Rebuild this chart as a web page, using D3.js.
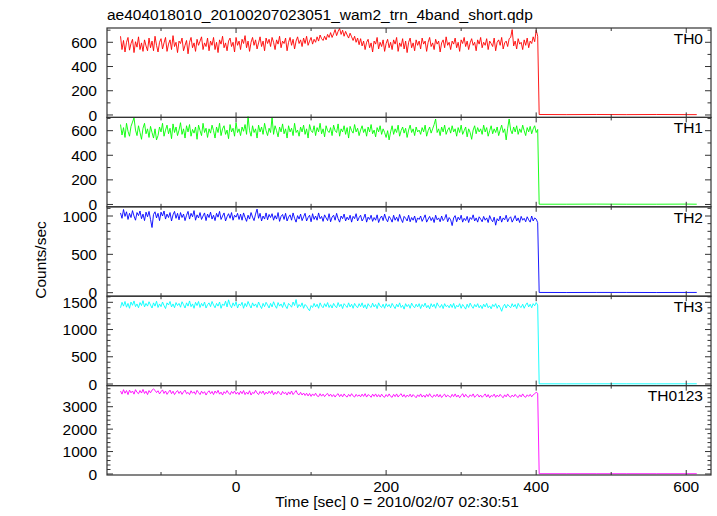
<!DOCTYPE html>
<html><head><meta charset="utf-8">
<script src="https://cdn.jsdelivr.net/npm/d3@7"></script>
<style>body{margin:0;background:#fff}svg{display:block}text{font-family:"Liberation Sans",Arial,sans-serif;fill:#000}</style>
</head><body><svg id="c" width="717" height="516"></svg>
<script>
// ---- data ----
const title = "ae404018010_20100207023051_wam2_trn_4band_short.qdp";
const xLabel = "Time [sec] 0 = 2010/02/07 02:30:51";
const yLabel = "Counts/sec";
const panelNames = ["TH0", "TH1", "TH2", "TH3", "TH0123"];
const xTickLabels = [0, 200, 400, 600];
// bins before the drop: start -154 s, 2 s apart
const binStart = -154, binStep = 2;
const th0High = [
 650,540,615,520,600,640,535,590,625,515,605,560,645,540,595,525,620,570,530,635,
 555,610,530,650,575,520,600,630,545,595,640,525,585,620,540,655,565,600,515,610,
 590,635,530,575,615,505,600,640,555,595,525,625,575,610,645,540,595,565,635,530,
 610,575,640,540,600,515,620,585,650,555,595,530,610,635,565,600,520,640,575,610,
 540,625,590,655,555,610,525,600,640,575,620,545,595,645,565,610,530,635,590,625,
 565,640,600,540,620,585,650,555,610,590,635,530,600,640,575,625,545,610,645,590,
 620,565,635,590,650,575,610,640,585,625,600,645,610,660,630,615,650,620,665,640,
 680,640,670,705,655,690,715,665,700,650,690,660,635,675,645,615,650,600,635,580,
 630,570,610,540,600,625,555,595,520,610,585,640,545,600,565,620,525,590,625,555,
 600,540,620,585,640,525,595,565,630,545,610,515,600,635,555,595,530,620,575,610,
 545,635,585,610,525,600,640,565,595,540,625,585,610,520,595,620,555,645,575,600,
 540,610,585,635,555,600,525,620,590,640,565,610,540,595,630,575,600,530,620,585,
 640,555,600,575,630,540,610,590,565,635,530,600,620,575,640,545,595,610,565,630,
 640,705,570,610,545,630,585,600,540,620,575,635,555,610,590,645,605,700,650];
const th1High = [
 650,565,625,545,660,595,555,635,670,705,605,560,640,585,530,620,660,575,615,545,
 635,585,540,615,525,560,630,590,660,555,605,645,575,620,535,655,585,630,560,605,
 665,570,615,540,640,590,650,555,610,580,630,530,645,600,560,660,585,620,545,615,
 580,645,600,540,630,585,660,560,615,640,570,605,535,650,590,620,555,665,585,615,
 560,630,595,650,570,715,600,555,640,585,615,540,645,590,630,570,660,600,560,620,
 585,710,570,640,600,550,630,590,655,575,615,540,640,590,620,560,660,585,605,555,
 630,590,645,570,615,540,650,600,585,640,560,625,590,660,575,615,550,640,600,585,
 625,560,645,600,585,655,555,615,590,640,570,625,540,635,600,580,650,590,620,560,
 605,640,585,615,555,630,590,650,575,605,550,625,590,640,570,615,585,545,600,525,
 590,640,570,615,585,645,555,600,630,580,620,545,605,645,585,615,560,630,590,605,
 570,625,590,645,555,600,630,580,615,650,695,585,615,560,630,590,645,570,605,625,
 580,640,590,615,555,625,585,645,570,600,630,550,615,585,530,605,640,575,625,590,
 615,570,645,590,625,555,600,640,575,615,585,630,560,605,645,585,615,525,620,695,
 605,575,630,590,640,570,615,585,645,600,560,625,590,635,575,615,640,585,610];
const th2High = [
 1040,970,1085,995,1055,955,1035,980,1070,1000,945,1045,1005,1065,965,1025,940,1050,990,1060,
 955,850,1020,1055,975,1035,940,1050,1000,1065,960,1025,980,1045,935,1015,1060,970,1035,950,
 1045,980,1025,940,1010,1060,960,1035,990,1070,945,1015,975,1045,955,1000,1040,940,1025,980,
 1050,960,1010,940,1035,985,1060,955,1000,1040,935,990,1030,970,1045,945,1010,985,1035,955,
 1025,945,1040,980,930,1010,960,1045,985,940,1025,1090,970,1035,935,1000,960,1040,950,1020,
 980,1030,945,1005,960,1045,930,995,1020,955,1035,935,985,1015,945,1040,970,920,1005,960,
 1025,940,990,1035,935,980,1010,925,1030,955,1000,945,1040,965,995,930,1015,975,940,1030,
 925,985,1010,945,1035,965,920,1000,965,1025,935,985,950,1010,920,995,965,1030,935,980,
 1010,935,970,1025,920,985,955,1010,930,980,945,1015,915,970,1000,940,1025,960,925,995,
 965,920,1010,945,985,930,1020,960,915,995,970,935,1010,925,980,945,1000,915,975,955,
 1000,930,970,1015,920,960,995,940,980,915,1010,950,975,925,1000,940,965,1020,925,980,
 950,875,975,1005,925,985,950,1010,920,970,940,995,915,980,955,1015,935,975,920,990,
 960,925,995,945,975,915,1005,955,925,985,880,965,935,1000,920,975,950,1010,925,970,
 990,920,960,1005,935,975,915,995,945,970,925,990,950,920,1000,935,975,960,915];
const th3High = [
 1400,1500,1430,1515,1410,1480,1390,1505,1445,1525,1420,1470,1400,1495,1440,1530,1415,1480,1430,1510,
 1450,1395,1490,1430,1520,1405,1470,1420,1505,1440,1385,1490,1450,1515,1415,1470,1400,1495,1440,1480,
 1410,1510,1455,1395,1490,1430,1525,1420,1470,1390,1500,1440,1515,1405,1480,1430,1505,1395,1455,1490,
 1420,1515,1450,1400,1480,1430,1505,1390,1470,1440,1520,1415,1545,1450,1400,1490,1430,1510,1395,1470,
 1440,1500,1390,1480,1420,1515,1450,1395,1490,1430,1470,1405,1505,1440,1385,1480,1420,1500,1450,1395,
 1480,1415,1510,1440,1390,1495,1430,1470,1405,1500,1430,1385,1480,1450,1410,1505,1440,1550,1400,1460,
 1420,1490,1390,1460,1430,1380,1345,1440,1405,1480,1415,1465,1390,1490,1430,1400,1475,1420,1495,1405,
 1455,1395,1480,1430,1400,1495,1420,1465,1385,1475,1440,1405,1490,1415,1465,1390,1480,1430,1400,1475,
 1420,1490,1400,1455,1380,1475,1430,1405,1485,1415,1460,1385,1490,1430,1405,1465,1390,1475,1420,1460,
 1400,1480,1430,1385,1465,1415,1490,1405,1445,1375,1475,1420,1460,1390,1485,1430,1400,1465,1415,1475,
 1385,1460,1420,1485,1400,1445,1380,1475,1415,1465,1390,1490,1430,1405,1460,1385,1475,1420,1445,1400,
 1465,1405,1480,1385,1445,1415,1475,1390,1460,1420,1375,1465,1405,1485,1430,1390,1460,1415,1475,1400,
 1445,1385,1465,1415,1480,1400,1435,1380,1460,1420,1475,1390,1450,1405,1335,1420,1465,1395,1460,1430,
 1400,1475,1415,1460,1385,1480,1425,1405,1465,1390,1450,1490,1415,1465,1400,1475,1435,1495,1450];
const th0123High = [
 3700,3560,3760,3600,3720,3540,3740,3620,3700,3560,3760,3640,3580,3720,3610,3770,3590,3690,3540,3720,
 3620,3740,3790,3730,3630,3710,3570,3670,3750,3590,3700,3550,3650,3740,3580,3690,3540,3650,3720,3590,
 3690,3550,3660,3740,3580,3640,3540,3710,3600,3670,3550,3730,3630,3540,3690,3590,3670,3520,3640,3710,
 3580,3680,3540,3700,3600,3730,3560,3650,3520,3670,3590,3720,3610,3540,3680,3590,3700,3560,3650,3540,
 3690,3580,3720,3540,3650,3560,3710,3520,3640,3590,3730,3610,3540,3680,3590,3700,3540,3650,3570,3690,
 3590,3710,3530,3650,3560,3690,3600,3530,3680,3580,3640,3520,3660,3560,3700,3540,3630,3720,3570,3530,
 3640,3520,3610,3500,3600,3480,3590,3460,3570,3490,3600,3480,3450,3580,3470,3560,3450,3540,3590,3470,
 3560,3450,3540,3430,3530,3580,3450,3550,3440,3570,3480,3430,3550,3460,3580,3480,3430,3550,3460,3530,
 3440,3560,3460,3580,3430,3540,3500,3420,3560,3460,3570,3440,3540,3430,3560,3460,3420,3540,3450,3570,
 3460,3420,3550,3450,3570,3430,3520,3580,3440,3540,3420,3520,3450,3560,3430,3540,3470,3400,3530,3450,
 3570,3430,3520,3420,3550,3450,3580,3460,3420,3530,3450,3560,3430,3540,3410,3500,3560,3430,3520,3460,
 3420,3550,3450,3570,3430,3520,3400,3490,3580,3430,3550,3450,3420,3530,3460,3570,3420,3500,3550,3430,
 3520,3420,3490,3570,3430,3540,3400,3500,3460,3560,3420,3520,3440,3550,3460,3400,3530,3440,3570,3460,
 3420,3520,3440,3550,3460,3410,3530,3440,3570,3460,3420,3530,3460,3550,3440,3530,3580,3640,3600];
// after the drop
const lowTimes = [404, 440, 480, 520, 560, 600, 614];
const th0Low = [4, 3, 4, 3, 4, 3, 3];
const th1Low = [2, 2, 3, 2, 2, 3, 2];
const th2Low = [3, 2, 3, 3, 2, 3, 3];
const th3Low = [4, 3, 4, 4, 3, 4, 4];
const th0123Low = [12, 11, 12, 12, 11, 12, 12];

const highSets = [th0High, th1High, th2High, th3High, th0123High];
const lowSets = [th0Low, th1Low, th2Low, th3Low, th0123Low];

// ---- layout / style ----
const colors = ["#ff0000", "#00ff00", "#0000ff", "#00ffff", "#ff00ff"];
const yDomains = [[-20, 718], [-19, 708], [-46, 1120], [-29, 1612], [-45, 3941]];
const yMajor = [200, 200, 500, 500, 1000];
const yMinor = [100, 100, 100, 100, 200];
const L = 107, R = 711, T = 28, B = 475;
const ph = (B - T) / 5;
const FS = 15.5;

const svg = d3.select("#c");
svg.append("rect").attr("width", 717).attr("height", 516).attr("fill", "#fff");
const x = d3.scaleLinear().domain([-172, 633]).range([L, R]);

svg.append("text").attr("x", L).attr("y", 19.5).attr("font-size", FS).text(title);

const axisCol = "#333";
panelNames.forEach((name, p) => {
  const top = T + p * ph, bot = top + ph;
  const y = d3.scaleLinear().domain(yDomains[p]).range([bot, top]);
  const g = svg.append("g");
  const times = d3.range(highSets[p].length).map(i => binStart + binStep * i);
  const pts = times.map((t, i) => [t, highSets[p][i]])
    .concat(lowTimes.map((t, i) => [t, lowSets[p][i]]));
  g.append("path").datum(pts)
    .attr("d", d3.line().x(d => x(d[0])).y(d => y(d[1])))
    .attr("fill", "none").attr("stroke", colors[p]).attr("stroke-width", 0.9);

  g.append("rect").attr("x", L).attr("y", top).attr("width", R - L).attr("height", ph)
    .attr("fill", "none").attr("stroke", axisCol).attr("stroke-width", 1.2);

  const xt = d3.range(-100, 633, 100);
  xt.forEach(v => {
    const len = v % 200 === 0 ? 5 : 3;
    g.append("line").attr("x1", x(v)).attr("x2", x(v)).attr("y1", bot).attr("y2", bot - len)
      .attr("stroke", axisCol);
    g.append("line").attr("x1", x(v)).attr("x2", x(v)).attr("y1", top).attr("y2", top + len)
      .attr("stroke", axisCol);
  });
  const yt = d3.range(0, yDomains[p][1], yMinor[p]);
  yt.forEach(v => {
    const major = v % yMajor[p] === 0;
    const len = major ? 6 : 3.5;
    const yy = y(v);
    g.append("line").attr("x1", L).attr("x2", L + len).attr("y1", yy).attr("y2", yy).attr("stroke", axisCol);
    g.append("line").attr("x1", R).attr("x2", R - len).attr("y1", yy).attr("y2", yy).attr("stroke", axisCol);
    if (major) {
      g.append("text").attr("x", 97).attr("y", yy).attr("dy", "0.36em")
        .attr("text-anchor", "end").attr("font-size", FS).text(v);
    }
  });
  g.append("text").attr("x", 703).attr("y", top + 15.8).attr("text-anchor", "end")
    .attr("font-size", FS).text(name);
});

xTickLabels.forEach(v => {
  svg.append("text").attr("x", x(v)).attr("y", 492).attr("text-anchor", "middle")
    .attr("font-size", FS).text(v);
});
svg.append("text").attr("x", 397).attr("y", 507).attr("text-anchor", "middle")
  .attr("font-size", FS).text(xLabel);
svg.append("text").attr("transform", "translate(46,260) rotate(-90)")
  .attr("text-anchor", "middle").attr("font-size", FS).text(yLabel);
</script></body></html>
